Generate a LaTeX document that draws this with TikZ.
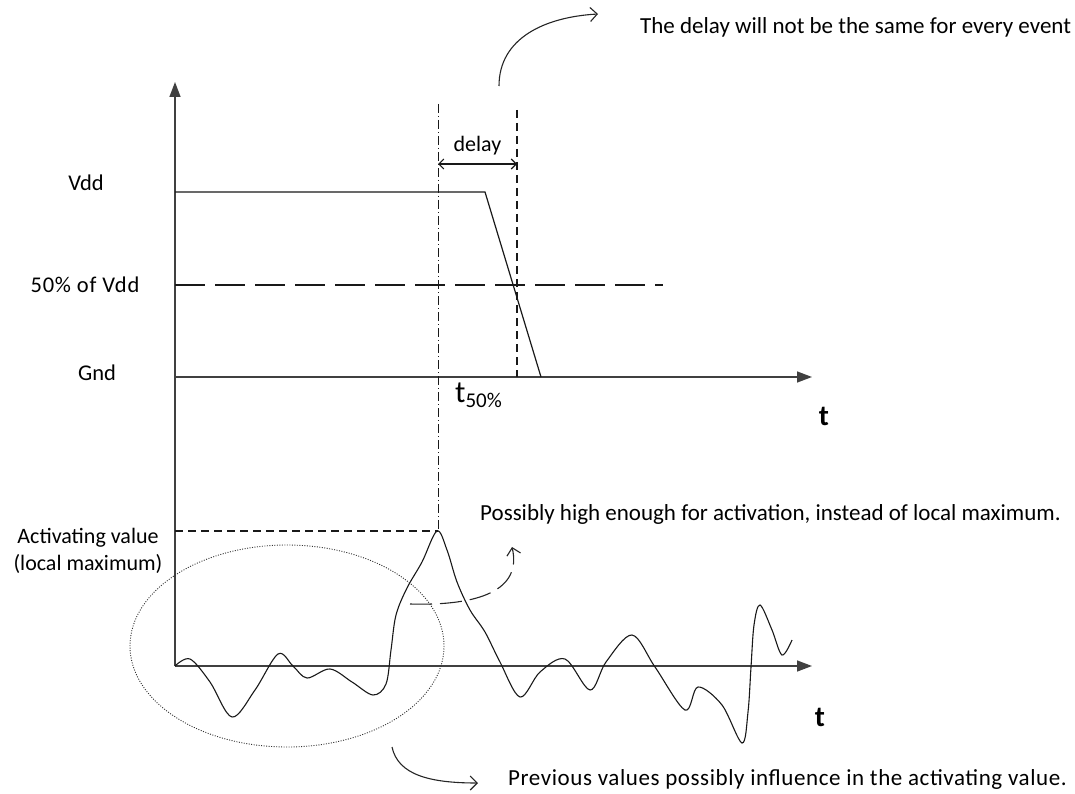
\documentclass[tikz,border=0pt]{standalone}
\usepackage{fontspec}
\setmainfont{Carlito}
\usetikzlibrary{arrows.meta}
\begin{document}
\begin{tikzpicture}[x=1pt,y=-1pt,
  axis/.style={draw=black!75,line width=1.4pt,-{Triangle[length=15pt,width=11pt]}},
  sig/.style={draw=black!90,line width=1.2pt},
  lbl/.style={font=\fontsize{22}{26.5}\selectfont,inner sep=0pt},
  wide/.style={font=\fontsize{23}{27}\selectfont,inner sep=0pt},
  tlbl/.style={font=\bfseries\fontsize{29}{30}\selectfont,inner sep=0pt},
  curvearrow/.style={draw=black!85,line width=1.1pt,-{Straight Barb[length=7pt,width=14pt]}},
]
\useasboundingbox (0,0) rectangle (1075,794);
% coordinates
\coordinate (o1) at (175,377);
\coordinate (ytop) at (175,82);
\coordinate (x1end) at (812,377);
\coordinate (o2) at (175,666);
\coordinate (x2end) at (812,666);
\coordinate (vddL) at (175,192);
\coordinate (vddR) at (485,192);
\coordinate (fallEnd) at (541,377);
\coordinate (halfL) at (175,285);
\coordinate (halfR) at (663,285);
\coordinate (dtop) at (438,104);
\coordinate (peak) at (438,531);
\coordinate (etop) at (517,110);
\coordinate (ebot) at (517,377);
\coordinate (actL) at (175,531);
\coordinate (delA) at (438,164);
\coordinate (delB) at (517,164);
% axes
\draw[axis] (o2) -- (ytop);
\draw[axis] (o1) -- (x1end);
\draw[axis] (o2) -- (x2end);
% upper signal
\draw[sig] (vddL) -- (vddR) -- (fallEnd);
\draw[sig,dash pattern=on 30pt off 10pt] (halfL) -- (halfR);
\draw[sig,line width=1pt,dash pattern=on 9pt off 3pt on 1pt off 3pt] (dtop) -- (peak);
\draw[sig,dash pattern=on 8pt off 5pt] (etop) -- (ebot);
\draw[sig,dash pattern=on 8pt off 5pt] (actL) -- (peak);
\draw[draw=black!90,line width=1.1pt,{Straight Barb[length=5pt,width=10pt]}-{Straight Barb[length=5pt,width=10pt]}] (delA) -- (delB)
  node[lbl,midway,above=8pt] (delay) {delay};
% lower signal
\draw[sig,line width=1.1pt] plot[smooth,tension=0.55] coordinates {
 (175,666) (190,659) (210,682) (232,717) (255,690) (278,654) (293,666) (307,678)
 (330,669) (352,682) (373,695) (386,684) (391,650) (396,615) (407,588) (422,562) (437,531)
 (447,550) (457,582) (470,610) (485,632) (500,662) (520,697) (540,672) (565,659)
 (590,690) (606,662) (632,635) (655,667) (685,710) (698,687) (722,705) (742,743)
 (748,712) (751,667) (754,625) (760,605) (772,630) (782,655) (792,640)};
% ellipse
\draw[black!80,line width=0.9pt,dash pattern=on 1pt off 1.5pt] (287,646) ellipse [x radius=157, y radius=101];
% curved arrows
\coordinate (c1s) at (499,86); \coordinate (c1e) at (598,14);
\draw[curvearrow] (c1s) .. controls (499,38) and (545,17) .. (c1e);
\coordinate (c2s) at (410,604); \coordinate (c2e) at (512,547);
\draw[curvearrow,dash pattern=on 22pt off 8pt] (c2s) .. controls (480,606) and (522,590) .. (c2e);
\coordinate (c3s) at (392,747); \coordinate (c3e) at (478,783);
\draw[curvearrow] (c3s) .. controls (398,775) and (430,783) .. (c3e);
% labels
\node[lbl,font=\fontsize{22.5}{27}\selectfont] (vdd) at (86,183) {Vdd};
\node[lbl,font=\fontsize{22.5}{27}\selectfont\addfontfeatures{LetterSpace=3.5}] (half) at (85,285) {50\% of Vdd};
\node[lbl,font=\fontsize{22.5}{27}\selectfont] (gnd) at (97,373) {Gnd};
\node[lbl,align=center] (act) at (88,551) {Activating value\\(local maximum)};
\node[inner sep=0pt,anchor=base west] (t50) at (455,402) {\fontsize{31}{32}\selectfont t\fontsize{21}{22}\selectfont\raisebox{-5pt}{50\%}};
\node[tlbl] (t1) at (824,416) {t};
\node[tlbl] (t2) at (820,717) {t};
\node[wide,anchor=west] (n1) at (640,27) {The delay will not be the same for every event};
\node[wide,anchor=west] (n2) at (480,514) {Possibly high enough for activation, instead of local maximum.};
\node[wide,anchor=west,font=\fontsize{23}{27}\selectfont\addfontfeatures{LetterSpace=2.5}] (n3) at (508,779) {Previous values possibly influence in the activating value.};
\end{tikzpicture}
\end{document}
